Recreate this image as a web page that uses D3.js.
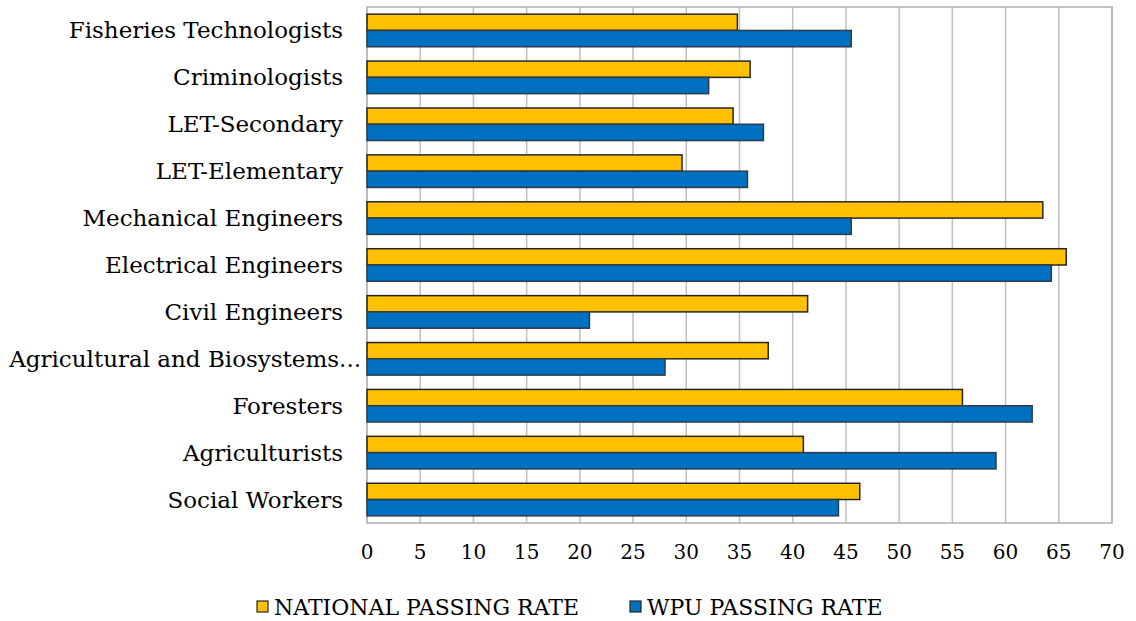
<!DOCTYPE html>
<html><head><meta charset="utf-8">
<script src="https://cdn.jsdelivr.net/npm/d3@7"></script>
<style>body{margin:0;background:#fff;} text{font-family:"DejaVu Serif",Georgia,serif;fill:#000;}</style>
</head><body>
<svg id="c" width="1136" height="621"></svg>
<script>
const categories = ["Fisheries Technologists","Criminologists","LET-Secondary","LET-Elementary","Mechanical Engineers","Electrical Engineers","Civil Engineers","Agricultural and Biosystems...","Foresters","Agriculturists","Social Workers"];
const seriesNames = ["NATIONAL PASSING RATE","WPU PASSING RATE"];
const nationalRate = [34.8,36.0,34.4,29.6,63.5,65.7,41.4,37.7,55.95,41.0,46.3];
const wpuRate = [45.5,32.1,37.25,35.75,45.5,64.3,20.9,28.0,62.5,59.1,44.3];
const xTicks = [0,5,10,15,20,25,30,35,40,45,50,55,60,65,70];
const colors = ["#FFC000","#0070C0"];

const svg = d3.select("#c");
const L=367, R=1112, T=7, B=523;
const x = d3.scaleLinear().domain([0,70]).range([L,R]);
const y0 = d3.scaleBand().domain(categories).range([T,B]).padding(0);
const y1 = d3.scaleBand().domain(seriesNames).range([0,y0.bandwidth()]).paddingInner(0).paddingOuter(0.44);

// gridlines
svg.append("g").selectAll("line").data(xTicks).join("line")
  .attr("x1",d=>x(d)).attr("x2",d=>x(d)).attr("y1",T).attr("y2",B)
  .attr("stroke",d=>d===0?"#d9d9d9":"#bfbfbf").attr("stroke-width",1.5);
// border
svg.append("rect").attr("x",L).attr("y",T).attr("width",R-L).attr("height",B-T)
  .attr("fill","none").attr("stroke","#b0b0b0").attr("stroke-width",1.5);

const data = categories.map((c,i)=>({c, vals:[nationalRate[i],wpuRate[i]]}));
const g = svg.append("g").selectAll("g").data(data).join("g")
  .attr("transform",d=>`translate(0,${y0(d.c)})`);
g.selectAll("rect").data(d=>d.vals.map((v,j)=>({v,s:seriesNames[j],j}))).join("rect")
  .attr("x",x(0)).attr("y",d=>y1(d.s)).attr("width",d=>x(d.v)-x(0)).attr("height",y1.bandwidth())
  .attr("fill",d=>colors[d.j]).attr("stroke",d=>d.j===0?"#262626":"#2f3a4a").attr("stroke-width",1.5);

// category labels
svg.append("g").selectAll("text").data(categories).join("text")
  .attr("x",d=>d.endsWith("...")?361:343).attr("y",d=>y0(d)+y0.bandwidth()/2)
  .attr("text-anchor","end").attr("dominant-baseline","central")
  .attr("font-size",23).text(d=>d);

// x axis labels
svg.append("g").selectAll("text").data(xTicks).join("text")
  .attr("x",d=>x(d)).attr("y",552).attr("text-anchor","middle").attr("dominant-baseline","central")
  .attr("font-size",20).text(d=>d);

// legend
const leg = svg.append("g");
const legX = [257,630];
seriesNames.forEach((s,i)=>{
  leg.append("rect").attr("x",legX[i]).attr("y",601).attr("width",11).attr("height",11)
    .attr("fill",colors[i]).attr("stroke","#262626").attr("stroke-width",1.2);
  leg.append("text").attr("x",legX[i]+17).attr("y",607).attr("dominant-baseline","central")
    .attr("font-size",22).attr("font-family","Liberation Serif").text(s);
});
</script>
</body></html>
